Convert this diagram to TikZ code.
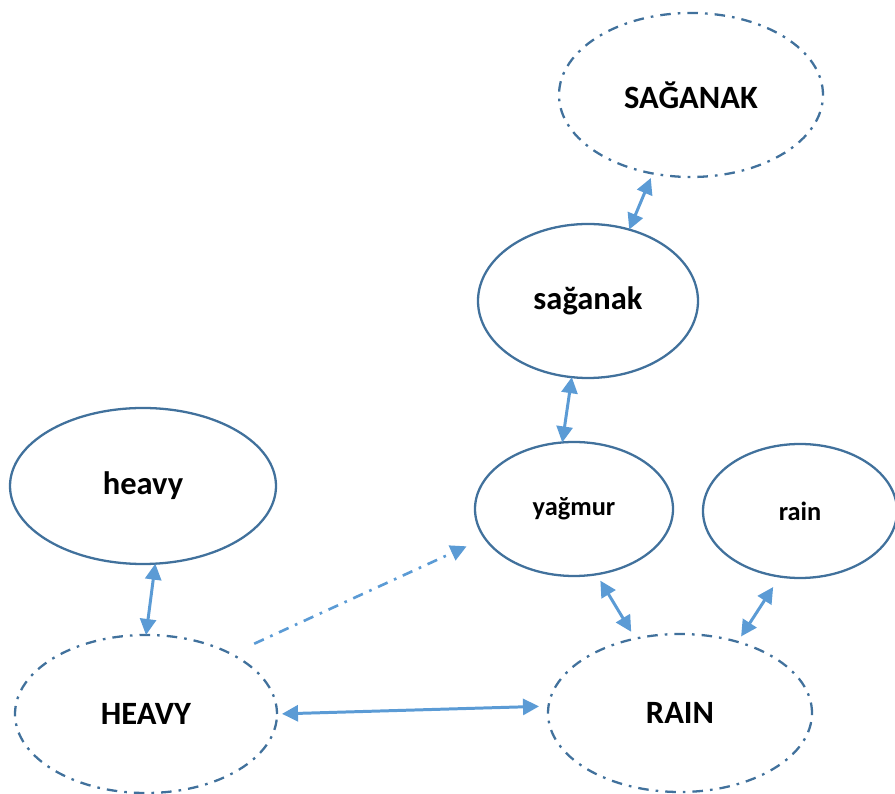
\documentclass[tikz,border=0pt]{standalone}
\usepackage{fontspec}
\setmainfont{Carlito}
\definecolor{edgeblue}{RGB}{65,113,156}
\definecolor{arrowblue}{RGB}{91,155,213}
\usetikzlibrary{arrows.meta,shapes.geometric}

\begin{document}
\begin{tikzpicture}[
  every node/.style={font=\fontsize{18.5}{20}\selectfont\bfseries},
  word/.style={ellipse, draw=edgeblue, line width=1.3pt, inner sep=0pt, outer sep=0pt},
  wordx/.style={word, dash pattern=on 6pt off 4pt on 1.5pt off 4pt},
  link/.style={arrowblue, line width=1.7pt, {Triangle[length=0.32cm,width=0.32cm]}-{Triangle[length=0.32cm,width=0.32cm]}},
  hint/.style={arrowblue, line width=1.5pt, dash pattern=on 6pt off 4pt on 1.5pt off 4pt, -{Triangle[length=0.32cm,width=0.32cm]}},
  small/.style={font=\fontsize{15}{17}\selectfont\bfseries}
]
\useasboundingbox (0,0) rectangle (17.9,15.88);
% Turkish side
\node[wordx, minimum width=5.28cm, minimum height=3.28cm] (SAGANAK) at (13.82,13.98) {SAĞANAK};
\node[word, minimum width=4.4cm, minimum height=3.08cm] (saganak) at (11.76,9.86) {sağanak};
\node[word, small, minimum width=3.96cm, minimum height=2.68cm] (yagmur) at (11.48,5.70) {yağmur};
% English side
\node[word, minimum width=5.32cm, minimum height=3.12cm] (heavy) at (2.86,6.16) {heavy};
\node[word, small, minimum width=3.88cm, minimum height=2.68cm] (rain) at (16.00,5.66) {rain};
\node[wordx, minimum width=5.24cm, minimum height=3.16cm] (HEAVY) at (2.92,1.60) {HEAVY};
\node[wordx, minimum width=5.28cm, minimum height=3.16cm] (RAIN) at (13.60,1.62) {RAIN};
% Links
\draw[link, shorten <=0.1cm] (SAGANAK.-116) -- (saganak.60);
\draw[link] (saganak.-102) -- (yagmur.100);
\draw[link] (heavy.-81) -- (HEAVY.90);
\draw[link, shorten <=0.15cm, shorten >=0.16cm] (yagmur.-71.4) -- (RAIN.121.8);
\draw[link, shorten <=0.25cm, shorten >=0.13cm] (rain.-107.9) -- (RAIN.51.7);
\draw[link, shorten <=0.1cm, shorten >=0.19cm] (HEAVY.0) -- (RAIN.177);
\draw[hint, shorten <=0.5cm, shorten >=0.4cm] (HEAVY.35.8) -- (yagmur.198.6);
\end{tikzpicture}
\end{document}
